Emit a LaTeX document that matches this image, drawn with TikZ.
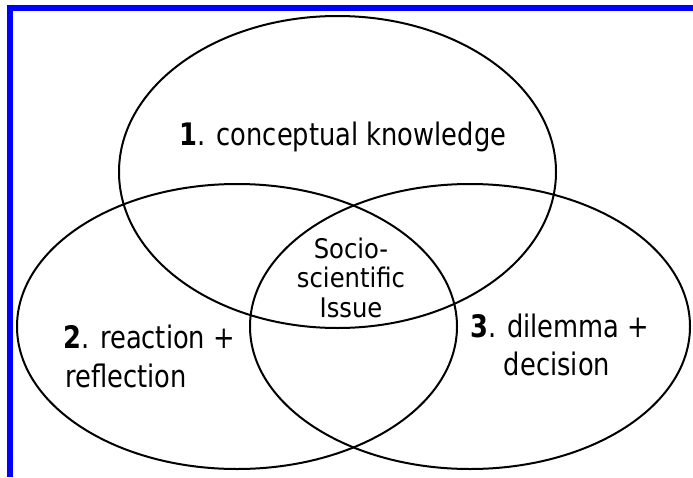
\documentclass[tikz,border=0pt]{standalone}
\usepackage{fontspec}
\usepackage{tikz, xcolor}
\usetikzlibrary{shapes.geometric}
\newfontfamily\vennfont[FakeStretch=0.83]{DejaVu Sans}
\newfontfamily\issuefont[FakeStretch=0.9]{DejaVu Sans}
\definecolor{frameblue}{RGB}{0,0,255}
\tikzset{
  circ/.style={ellipse, draw, line width=2pt, inner sep=0pt},
  lbl/.style={inner sep=0pt, font=\vennfont\fontsize{31}{38}\selectfont},
  mid/.style={inner sep=0pt, align=center, font=\issuefont\fontsize{27}{29.5}\selectfont}
}

\begin{document}
\begin{tikzpicture}[x=1pt, y=-1pt]
\useasboundingbox (0,0) rectangle (693,477);
% frame
\draw[frameblue, line width=6pt] (9.5,477) -- (9.5,8.4) -- (693,8.4);
% the three sets
\node[circ, minimum width=437pt, minimum height=312pt] (know) at (337.5,172) {};
\node[circ, minimum width=440pt, minimum height=285pt] (react) at (237,326.5) {};
\node[circ, minimum width=440pt, minimum height=285pt] (decide) at (470,326.5) {};
% labels
\node[lbl, anchor=base] (knowtxt) at (343,145) {\textbf{1}. conceptual knowledge};
\node[lbl, anchor=base west] (reacttxt) at (63,348) {\textbf{2}. reaction +};
\node[lbl, anchor=base west] (reflect) at (65,387) {reflection};
\node[lbl, anchor=base west] (decidetxt) at (470,337) {\textbf{3}. dilemma +};
\node[lbl, anchor=base] (decision) at (557,375) {decision};
\node[mid, anchor=base] (issue) at (351,317) {Socio-\\scientific\\Issue};
\end{tikzpicture}
\end{document}
